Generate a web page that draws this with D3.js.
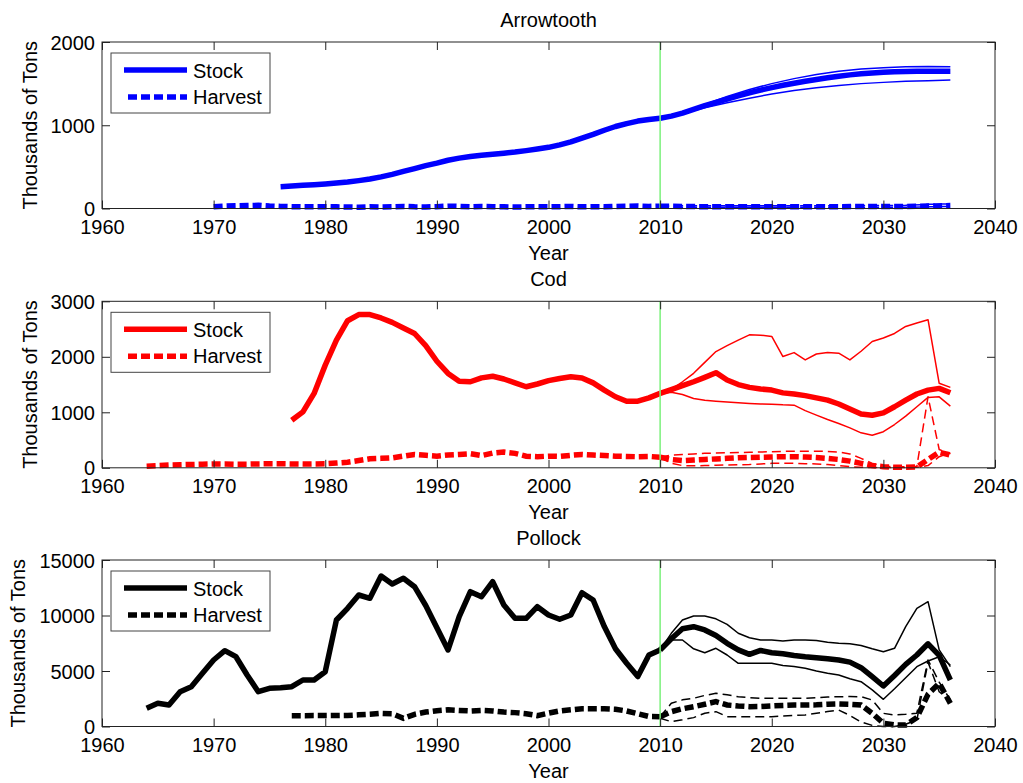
<!DOCTYPE html>
<html>
<head>
<meta charset="utf-8">
<script src="https://cdn.jsdelivr.net/npm/d3@7"></script>
<style>
  html, body { margin: 0; padding: 0; background: #fff; }
  svg { display: block; }
  text { font-family: "Liberation Sans", Arial, Helvetica, sans-serif; font-size: 20px; fill: #000; }
</style>
</head>
<body>
<svg id="chart" width="1023" height="783"></svg>
<script>
// ---------- data (thousands of tons) ----------
const xTicks = [1960, 1970, 1980, 1990, 2000, 2010, 2020, 2030, 2040];
const seriesNames = ["Stock", "Harvest"];

// Arrowtooth
const arrowStock = [[1976,262],[1977,270],[1978,278],[1979,285],[1980,294],[1981,305],[1982,318],[1983,335],[1984,355],[1985,380],[1986,410],[1987,445],[1988,480],[1989,515],[1990,545],[1991,580],[1992,605],[1993,625],[1994,640],[1995,652],[1996,665],[1997,678],[1998,695],[1999,715],[2000,735],[2001,765],[2002,800],[2003,845],[2004,890],[2005,940],[2006,985],[2007,1020],[2008,1050],[2009,1070],[2010,1085]];
const arrowStockProj = [[2010,1085],[2011,1110],[2012,1145],[2013,1190],[2014,1235],[2015,1275],[2016,1315],[2017,1352],[2018,1390],[2019,1422],[2020,1452],[2021,1480],[2022,1505],[2023,1528],[2024,1550],[2025,1570],[2026,1588],[2027,1605],[2028,1618],[2029,1628],[2030,1636],[2031,1642],[2032,1646],[2033,1648],[2034,1650],[2035,1650],[2036,1650]];
const arrowStockHi = [[2010,1085],[2012,1150],[2014,1250],[2016,1345],[2018,1430],[2020,1500],[2022,1560],[2024,1610],[2026,1648],[2028,1675],[2030,1692],[2032,1702],[2034,1706],[2036,1704]];
const arrowStockLo = [[2010,1085],[2012,1140],[2014,1210],[2016,1270],[2018,1325],[2020,1375],[2022,1418],[2024,1450],[2026,1478],[2028,1500],[2030,1515],[2032,1530],[2034,1535],[2036,1545]];
const arrowHarvest = [[1970,22],[1971,28],[1972,32],[1973,35],[1974,38],[1975,30],[1976,25],[1977,22],[1978,20],[1979,20],[1980,22],[1981,20],[1982,18],[1983,15],[1984,20],[1985,18],[1986,20],[1987,25],[1988,20],[1989,18],[1990,22],[1991,28],[1992,25],[1993,20],[1994,25],[1995,22],[1996,20],[1997,18],[1998,20],[1999,22],[2000,20],[2001,22],[2002,25],[2003,20],[2004,22],[2005,20],[2006,25],[2007,28],[2008,30],[2009,25],[2010,28]];
const arrowHarvestProj = [[2010,28],[2012,24],[2014,22],[2016,22],[2018,22],[2020,22],[2022,22],[2024,22],[2026,22],[2028,24],[2030,25],[2032,25],[2034,30],[2036,35]];
const arrowHarvestHi = [[2010,28],[2012,34],[2014,32],[2016,32],[2018,32],[2020,32],[2022,32],[2024,32],[2026,34],[2028,36],[2030,36],[2032,38],[2034,50],[2036,55]];
const arrowHarvestLo = [[2010,28],[2012,15],[2014,14],[2016,14],[2018,14],[2020,14],[2022,14],[2024,14],[2026,14],[2028,14],[2030,15],[2032,15],[2034,20],[2036,25]];

// Cod
const codStock = [[1977,857],[1978,1007],[1979,1340],[1980,1850],[1981,2300],[1982,2650],[1983,2760],[1984,2760],[1985,2700],[1986,2620],[1987,2520],[1988,2420],[1989,2200],[1990,1920],[1991,1700],[1992,1560],[1993,1550],[1994,1620],[1995,1650],[1996,1600],[1997,1530],[1998,1460],[1999,1510],[2000,1570],[2001,1610],[2002,1640],[2003,1620],[2004,1530],[2005,1400],[2006,1280],[2007,1200],[2008,1200],[2009,1260],[2010,1340]];
const codStockProj = [[2010,1340],[2011,1410],[2012,1480],[2013,1550],[2014,1630],[2015,1714],[2016,1582],[2017,1500],[2018,1449],[2019,1420],[2020,1400],[2021,1350],[2022,1330],[2023,1300],[2024,1260],[2025,1220],[2026,1150],[2027,1060],[2028,970],[2029,947],[2030,990],[2031,1100],[2032,1219],[2033,1330],[2034,1400],[2035,1431],[2036,1352]];
const codStockHi = [[2010,1340],[2011,1413],[2012,1550],[2013,1703],[2014,1900],[2015,2094],[2016,2200],[2017,2300],[2018,2396],[2019,2390],[2020,2366],[2021,2004],[2022,2076],[2023,1944],[2024,2050],[2025,2076],[2026,2065],[2027,1944],[2028,2100],[2029,2275],[2030,2340],[2031,2420],[2032,2547],[2033,2610],[2034,2668],[2035,1522],[2036,1449]];
const codStockLo = [[2010,1340],[2011,1360],[2012,1320],[2013,1250],[2014,1219],[2015,1200],[2016,1185],[2017,1171],[2018,1160],[2019,1150],[2020,1147],[2021,1135],[2022,1129],[2023,1030],[2024,950],[2025,870],[2026,797],[2027,720],[2028,630],[2029,585],[2030,650],[2031,780],[2032,930],[2033,1100],[2034,1268],[2035,1279],[2036,1110]];
const codHarvest = [[1964,30],[1965,40],[1966,50],[1967,55],[1968,60],[1969,65],[1970,70],[1971,70],[1972,65],[1973,65],[1974,70],[1975,72],[1976,72],[1977,70],[1978,68],[1979,70],[1980,72],[1981,85],[1982,100],[1983,130],[1984,163],[1985,170],[1986,180],[1987,210],[1988,241],[1989,225],[1990,210],[1991,230],[1992,240],[1993,253],[1994,220],[1995,265],[1996,283],[1997,260],[1998,210],[1999,200],[2000,210],[2001,205],[2002,225],[2003,241],[2004,230],[2005,220],[2006,210],[2007,205],[2008,200],[2009,205],[2010,190]];
const codHarvestProj = [[2010,190],[2011,150],[2012,130],[2013,140],[2014,150],[2015,160],[2016,170],[2017,180],[2018,185],[2019,190],[2020,195],[2021,200],[2022,200],[2023,195],[2024,185],[2025,170],[2026,150],[2027,120],[2028,80],[2029,40],[2030,20],[2031,10],[2032,10],[2033,15],[2034,150],[2035,280],[2036,230]];
const codHarvestHi = [[2010,190],[2011,230],[2012,240],[2013,250],[2014,260],[2015,265],[2016,270],[2017,275],[2018,280],[2019,285],[2020,290],[2021,295],[2022,300],[2023,300],[2024,300],[2025,295],[2026,285],[2027,250],[2028,170],[2029,80],[2030,30],[2031,20],[2032,20],[2033,25],[2034,1280],[2035,330],[2036,250]];
const codHarvestLo = [[2010,190],[2011,80],[2012,40],[2013,35],[2014,40],[2015,45],[2016,50],[2017,55],[2018,60],[2019,70],[2020,80],[2021,80],[2022,80],[2023,75],[2024,70],[2025,60],[2026,40],[2027,20],[2028,10],[2029,5],[2030,5],[2031,5],[2032,5],[2033,10],[2034,40],[2035,200],[2036,270]];

// Pollock
const pollockStock = [[1964,1640],[1965,2090],[1966,1937],[1967,3135],[1968,3586],[1969,4793],[1970,5991],[1971,6829],[1972,6288],[1973,4640],[1974,3135],[1975,3441],[1976,3500],[1977,3586],[1978,4189],[1979,4189],[1980,4937],[1981,9595],[1982,10649],[1983,11847],[1984,11550],[1985,13559],[1986,12838],[1987,13351],[1988,12595],[1989,10900],[1990,8900],[1991,6892],[1992,9892],[1993,12144],[1994,11694],[1995,13045],[1996,10946],[1997,9748],[1998,9748],[1999,10793],[2000,10045],[2001,9657],[2002,10045],[2003,12054],[2004,11396],[2005,9000],[2006,7000],[2007,5700],[2008,4500],[2009,6441],[2010,6892]];
const pollockStockProj = [[2010,6892],[2011,7900],[2012,8800],[2013,8990],[2014,8700],[2015,8200],[2016,7495],[2017,6900],[2018,6500],[2019,6850],[2020,6650],[2021,6550],[2022,6400],[2023,6288],[2024,6200],[2025,6100],[2026,5991],[2027,5800],[2028,5300],[2029,4486],[2030,3649],[2031,4600],[2032,5600],[2033,6441],[2034,7450],[2035,6400],[2036,4189]];
const pollockStockHi = [[2010,6892],[2011,8396],[2012,9600],[2013,9950],[2014,9950],[2015,9700],[2016,9200],[2017,8400],[2018,8000],[2019,7800],[2020,7793],[2021,7700],[2022,7800],[2023,7793],[2024,7750],[2025,7600],[2026,7495],[2027,7450],[2028,7300],[2029,7000],[2030,6739],[2031,7045],[2032,9000],[2033,10649],[2034,11243],[2035,6900],[2036,5387]];
const pollockStockLo = [[2010,6892],[2011,7793],[2012,7793],[2013,7000],[2014,6649],[2015,7045],[2016,6441],[2017,5694],[2018,5700],[2019,5694],[2020,5694],[2021,5500],[2022,5400],[2023,5243],[2024,5000],[2025,4800],[2026,4640],[2027,4300],[2028,4036],[2029,3300],[2030,2450],[2031,3400],[2032,4400],[2033,5387],[2034,5900],[2035,6288],[2036,5541]];
const pollockHarvest = [[1977,976],[1978,976],[1979,980],[1980,980],[1981,990],[1982,1000],[1983,1050],[1984,1100],[1985,1186],[1986,1150],[1987,736],[1988,1100],[1989,1300],[1990,1426],[1991,1500],[1992,1450],[1993,1400],[1994,1450],[1995,1400],[1996,1300],[1997,1250],[1998,1150],[1999,980],[2000,1200],[2001,1400],[2002,1500],[2003,1600],[2004,1600],[2005,1600],[2006,1550],[2007,1400],[2008,1150],[2009,900],[2010,886]];
const pollockHarvestProj = [[2010,886],[2011,1336],[2012,1600],[2013,1786],[2014,2000],[2015,2236],[2016,1937],[2017,1850],[2018,1786],[2019,1800],[2020,1850],[2021,1900],[2022,1937],[2023,1937],[2024,1950],[2025,2000],[2026,2027],[2027,2000],[2028,1937],[2029,1186],[2030,288],[2031,150],[2032,135],[2033,800],[2034,2900],[2035,3900],[2036,2090]];
const pollockHarvestHi = [[2010,886],[2011,2090],[2012,2400],[2013,2541],[2014,2800],[2015,2991],[2016,2850],[2017,2685],[2018,2600],[2019,2541],[2020,2541],[2021,2541],[2022,2541],[2023,2541],[2024,2600],[2025,2650],[2026,2685],[2027,2700],[2028,2685],[2029,2387],[2030,1186],[2031,1036],[2032,1100],[2033,1200],[2034,5991],[2035,4000],[2036,2387]];
const pollockHarvestLo = [[2010,736],[2011,436],[2012,600],[2013,800],[2014,1200],[2015,1336],[2016,886],[2017,886],[2018,886],[2019,886],[2020,886],[2021,950],[2022,1000],[2023,1036],[2024,1200],[2025,1350],[2026,1486],[2027,1000],[2028,400],[2029,100],[2030,0],[2031,0],[2032,200],[2033,600],[2034,5800],[2035,3135],[2036,2300]];

const panels = [
  { title: "Arrowtooth", color: "#0000ff", yMax: 2000, yTicks: [0, 1000, 2000], top: 42,
    stock: arrowStock, stockProj: arrowStockProj, stockHi: arrowStockHi, stockLo: arrowStockLo,
    harvest: arrowHarvest, harvestProj: arrowHarvestProj, harvestHi: arrowHarvestHi, harvestLo: arrowHarvestLo },
  { title: "Cod", color: "#ff0000", yMax: 3000, yTicks: [0, 1000, 2000, 3000], top: 301.3,
    stock: codStock, stockProj: codStockProj, stockHi: codStockHi, stockLo: codStockLo,
    harvest: codHarvest, harvestProj: codHarvestProj, harvestHi: codHarvestHi, harvestLo: codHarvestLo },
  { title: "Pollock", color: "#000000", yMax: 15000, yTicks: [0, 5000, 10000, 15000], top: 560,
    stock: pollockStock, stockProj: pollockStockProj, stockHi: pollockStockHi, stockLo: pollockStockLo,
    harvest: pollockHarvest, harvestProj: pollockHarvestProj, harvestHi: pollockHarvestHi, harvestLo: pollockHarvestLo }
];

// ---------- layout ----------
const svg = d3.select("#chart");
const left = 102, right = 995, plotH = 166.5;
const x = d3.scaleLinear().domain([1960, 2040]).range([left, right]);
const markYear = 2010;

const thick = 5.5, thin = 1.5;
const dashThick = "9,4", dashThin = "9,5";

panels.forEach(p => {
  const bottom = p.top + plotH;
  const y = d3.scaleLinear().domain([0, p.yMax]).range([bottom, p.top]);
  const g = svg.append("g");
  const line = d3.line().x(d => x(d[0])).y(d => y(d[1]));

  // plot background
  g.append("rect").attr("x", left).attr("y", p.top)
    .attr("width", right - left).attr("height", plotH).attr("fill", "#fff");

  // main stock and harvest (thick)
  [p.stock, p.stockProj].forEach(s => {
    g.append("path").datum(s).attr("d", line).attr("fill", "none")
      .attr("stroke", p.color).attr("stroke-width", thick).attr("stroke-linejoin", "round");
  });
  [p.harvest, p.harvestProj].forEach(s => {
    g.append("path").datum(s).attr("d", line).attr("fill", "none")
      .attr("stroke", p.color).attr("stroke-width", thick).attr("stroke-dasharray", dashThick)
      .attr("stroke-linejoin", "miter");
  });

  // projected scenario lines (thin)
  [p.stockHi, p.stockLo].forEach(s => {
    g.append("path").datum(s).attr("d", line).attr("fill", "none")
      .attr("stroke", p.color).attr("stroke-width", thin).attr("stroke-linejoin", "round");
  });
  [p.harvestHi, p.harvestLo].forEach(s => {
    g.append("path").datum(s).attr("d", line).attr("fill", "none")
      .attr("stroke", p.color).attr("stroke-width", thin).attr("stroke-dasharray", dashThin)
      .attr("stroke-linejoin", "round");
  });

  // vertical marker at 2010
  g.append("line").attr("x1", x(markYear)).attr("x2", x(markYear))
    .attr("y1", p.top).attr("y2", bottom)
    .attr("stroke", "#7cf07c").attr("stroke-width", 1.5);

  // axes (ticks inward on all four sides)
  const axB = g.append("g").attr("transform", `translate(0,${bottom})`)
    .call(d3.axisBottom(x).tickValues(xTicks).tickFormat(d3.format("d")).tickSizeInner(-8).tickSizeOuter(0));
  axB.selectAll("text").attr("y", 25.5).attr("dy", null);
  const axT = g.append("g").attr("transform", `translate(0,${p.top})`)
    .call(d3.axisTop(x).tickValues(xTicks).tickFormat("").tickSizeInner(-8).tickSizeOuter(0));
  const axL = g.append("g").attr("transform", `translate(${left},0)`)
    .call(d3.axisLeft(y).tickValues(p.yTicks).tickFormat(d3.format("d")).tickSizeInner(-8).tickSizeOuter(0).tickPadding(7));
  axL.selectAll("text").attr("dy", "0.35em");
  const axR = g.append("g").attr("transform", `translate(${right},0)`)
    .call(d3.axisRight(y).tickValues(p.yTicks).tickFormat("").tickSizeInner(-8).tickSizeOuter(0));
  [axB, axT, axL, axR].forEach(a => {
    a.select(".domain").remove();
    a.selectAll("line").attr("stroke", "#222");
    a.selectAll("text").style("font-size", "20px").style("font-family", null);
  });
  // frame
  g.append("rect").attr("x", left).attr("y", p.top)
    .attr("width", right - left).attr("height", plotH)
    .attr("fill", "none").attr("stroke", "#222").attr("stroke-width", 1);

  // title and axis labels
  g.append("text").attr("x", (left + right) / 2).attr("y", p.top - 15.5)
    .attr("text-anchor", "middle").text(p.title);
  g.append("text").attr("x", (left + right) / 2).attr("y", bottom + 51)
    .attr("text-anchor", "middle").text("Year");
  let maxW = 0;
  axL.selectAll("text").each(function () { maxW = Math.max(maxW, this.getComputedTextLength()); });
  const labelX = left - 7 - maxW - 14;
  g.append("text").attr("transform", `translate(${labelX},${(p.top + bottom) / 2}) rotate(-90)`)
    .attr("text-anchor", "middle").text("Thousands of Tons");

  // legend
  const lg = g.append("g").attr("transform", `translate(${left + 9},${p.top + 11})`);
  lg.append("rect").attr("width", 159).attr("height", 60)
    .attr("fill", "#fff").attr("stroke", "#444").attr("stroke-width", 1);
  lg.append("line").attr("x1", 13).attr("x2", 76).attr("y1", 17).attr("y2", 17)
    .attr("stroke", p.color).attr("stroke-width", thick);
  lg.append("line").attr("x1", 17).attr("x2", 76).attr("y1", 44).attr("y2", 44)
    .attr("stroke", p.color).attr("stroke-width", thick).attr("stroke-dasharray", dashThick);
  lg.append("text").attr("x", 82).attr("y", 24.5).text(seriesNames[0]);
  lg.append("text").attr("x", 82).attr("y", 51).text(seriesNames[1]);
});
</script>
</body>
</html>
